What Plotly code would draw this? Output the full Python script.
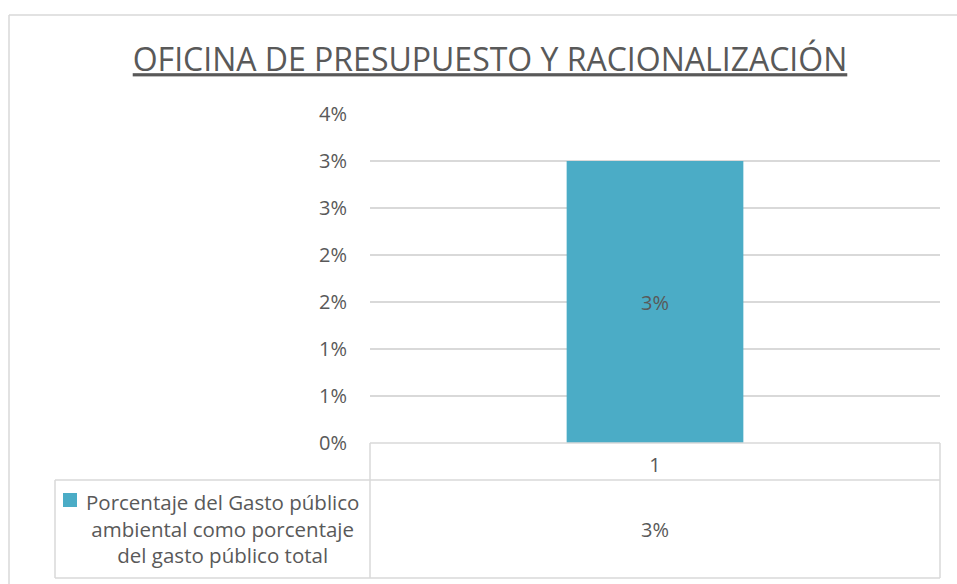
import plotly.graph_objects as go

# data
categories = ["1"]
series_name = "Porcentaje del Gasto público<br>ambiental como porcentaje<br>del gasto público total"
values = [0.03]
value_labels = ["3%"]
tick_vals = [0, 0.005, 0.01, 0.015, 0.02, 0.025, 0.03, 0.035]
tick_text = ["0%", "1%", "1%", "2%", "2%", "3%", "3%", "4%"]
title = "OFICINA DE PRESUPUESTO Y RACIONALIZACIÓN"

bar_color = "#4BACC6"
text_color = "#595959"
grid_color = "#D9D9D9"
font_name = "Open Sans"

# plot area in pixels (for the data table below the axis)
L, R, T, B = 370, 940, 114, 443
W, H = R - L, B - T


def px_x(x):
    return (x - L) / W


def px_y(y):
    return (B - y) / H


fig = go.Figure()
fig.add_trace(go.Bar(
    x=categories, y=values, width=0.31,
    marker=dict(color=bar_color, line=dict(width=0)),
    text=value_labels, textposition="inside", insidetextanchor="middle",
    textfont=dict(size=20, color=text_color, family=font_name),
    textangle=0, showlegend=False, hoverinfo="skip",
))

fig.update_layout(
    width=957, height=584,
    margin=dict(l=L, r=957 - R, t=T, b=584 - B),
    plot_bgcolor="white", paper_bgcolor="white",
    font=dict(family=font_name, color=text_color),
    title=dict(text="<u>" + title + "</u>", x=490 / 957, xref="container",
               xanchor="center", y=1 - 60 / 584, yanchor="middle",
               font=dict(size=32, color=text_color, family=font_name)),
    yaxis=dict(range=[0, 0.035], tickvals=tick_vals, ticktext=tick_text,
               showgrid=True, gridcolor=grid_color, gridwidth=1.5,
               zeroline=False, showline=False, ticks="",
               ticklabelstandoff=22,
               tickfont=dict(size=20, color=text_color)),
    xaxis=dict(type="category", range=[-0.5, len(categories) - 0.5],
               showgrid=False, zeroline=False, showline=False, ticks="",
               ticklabelstandoff=8,
               tickfont=dict(size=20, color=text_color)),
)

line = dict(color=grid_color, width=1.5)
# data table lines
fig.add_shape(type="line", xref="paper", yref="paper", x0=0, x1=1, y0=px_y(443), y1=px_y(443), line=line)
fig.add_shape(type="line", xref="paper", yref="paper", x0=px_x(55), x1=1, y0=px_y(480), y1=px_y(480), line=line)
fig.add_shape(type="line", xref="paper", yref="paper", x0=px_x(55), x1=1, y0=px_y(578), y1=px_y(578), line=line)
fig.add_shape(type="line", xref="paper", yref="paper", x0=0, x1=0, y0=px_y(443), y1=px_y(578), line=line)
fig.add_shape(type="line", xref="paper", yref="paper", x0=1, x1=1, y0=px_y(443), y1=px_y(578), line=line)
fig.add_shape(type="line", xref="paper", yref="paper", x0=px_x(55), x1=px_x(55), y0=px_y(480), y1=px_y(578), line=line)
# outer chart border
fig.add_shape(type="line", xref="paper", yref="paper", x0=px_x(9), x1=px_x(960), y0=px_y(15), y1=px_y(15), line=line)
fig.add_shape(type="line", xref="paper", yref="paper", x0=px_x(9), x1=px_x(9), y0=px_y(15), y1=px_y(590), line=line)

# legend key + series name
fig.add_shape(type="rect", xref="paper", yref="paper",
              x0=px_x(63), x1=px_x(77), y0=px_y(507), y1=px_y(493),
              fillcolor=bar_color, line=dict(width=0))
fig.add_annotation(xref="paper", yref="paper", x=px_x(222), y=px_y(528),
                   text=series_name, showarrow=False, align="center",
                   xanchor="center", yanchor="middle",
                   font=dict(size=20.5, color=text_color))
# table value
for i, lab in enumerate(value_labels):
    fig.add_annotation(x=i, xref="x", yref="paper", y=px_y(529), text=lab,
                       showarrow=False, xanchor="center", yanchor="middle",
                       font=dict(size=20, color=text_color))

fig.write_html("out.html", config={"displayModeBar": False},
               post_script="document.body.style.margin='0';")
